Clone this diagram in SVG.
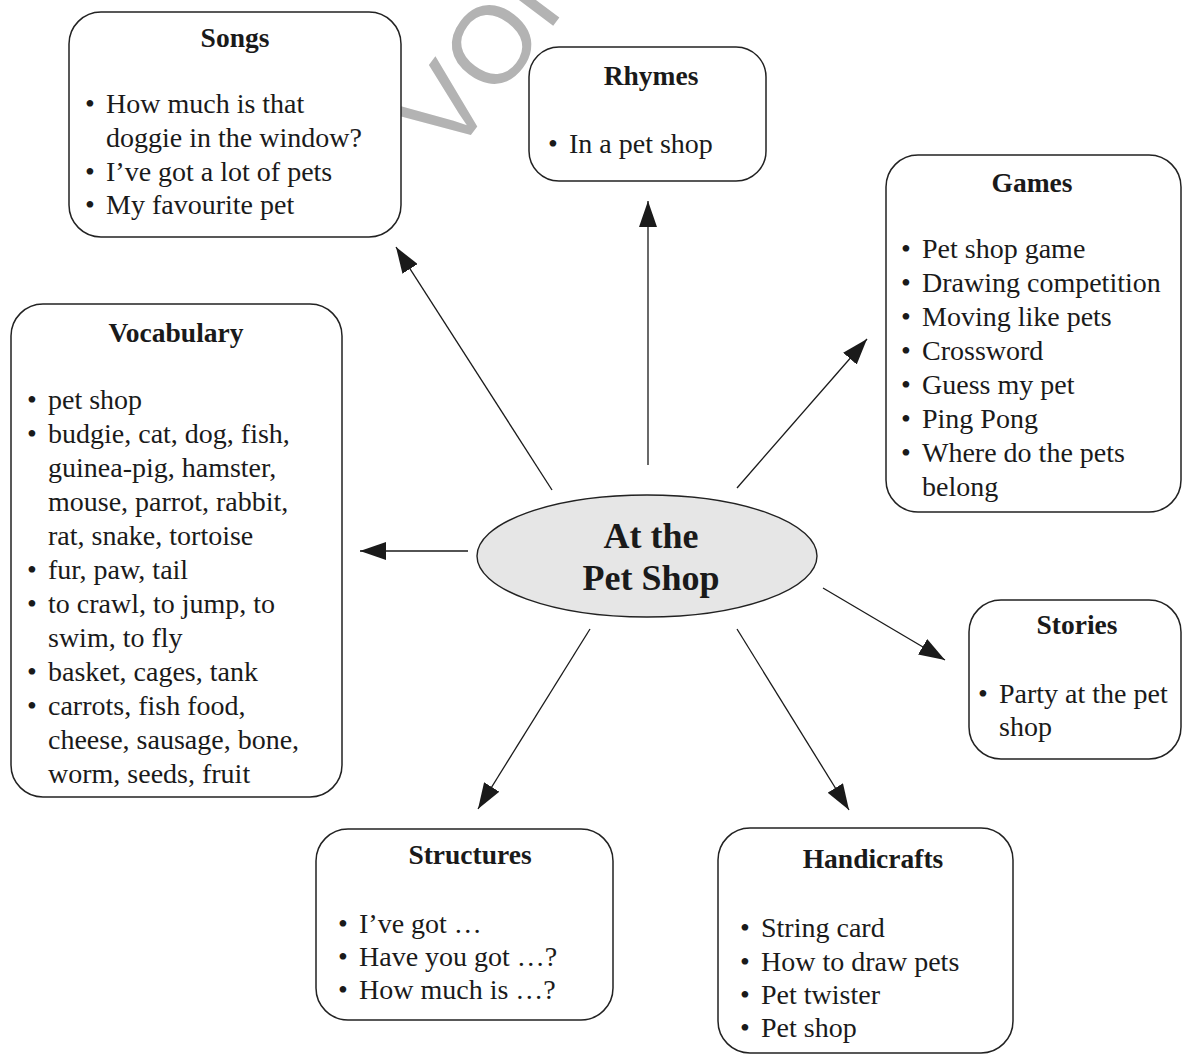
<svg xmlns="http://www.w3.org/2000/svg" width="1182" height="1054" viewBox="0 0 1182 1054">
<style>
.box{fill:#fff;stroke:#222;stroke-width:1.5}
.t{font-family:"Liberation Serif","Times New Roman",serif;font-size:28px;fill:#1a1a1a}
.h{font-family:"Liberation Serif","Times New Roman",serif;font-size:27.5px;font-weight:bold;fill:#1a1a1a;text-anchor:middle}
.c{font-family:"Liberation Serif","Times New Roman",serif;font-size:36px;font-weight:bold;fill:#1a1a1a;text-anchor:middle}
.wm{font-family:"Liberation Sans",Arial,sans-serif;font-size:110px;fill:#b3b3b3}
.ln{stroke:#1a1a1a;stroke-width:1.3;fill:none;marker-end:url(#ah)}
</style>
<defs>
<marker id="ah" markerUnits="userSpaceOnUse" viewBox="0 0 26 18" refX="26" refY="9" markerWidth="26" markerHeight="18" orient="auto">
<path d="M0,0 L26,9 L0,18 z" fill="#1a1a1a"/>
</marker>
</defs>
<rect width="1182" height="1054" fill="#fff"/>
<text class="wm" x="452" y="160" transform="rotate(-53 452 160)">VOR</text>

<g id="connectors">
<line class="ln" x1="552" y1="490" x2="396" y2="247"/>
<line class="ln" x1="648" y1="465" x2="648" y2="201"/>
<line class="ln" x1="737" y1="488" x2="867" y2="339"/>
<line class="ln" x1="468" y1="551" x2="360" y2="551"/>
<line class="ln" x1="823" y1="588" x2="945" y2="660"/>
<line class="ln" x1="590" y1="629" x2="478" y2="809"/>
<line class="ln" x1="737" y1="629" x2="849" y2="810"/>
</g>

<g id="center">
<ellipse cx="647" cy="556" rx="170" ry="61" fill="#e6e6e6" stroke="#222" stroke-width="1.4"/>
<text class="c" x="651" y="548">At the</text>
<text class="c" x="651" y="590">Pet Shop</text>
</g>

<g id="songs">
<rect class="box" x="69" y="12" width="332" height="225" rx="32"/>
<text class="h" x="235" y="47">Songs</text>
<text class="t"><tspan x="85" y="113">•</tspan><tspan x="106" y="113">How much is that</tspan><tspan x="106" y="147">doggie in the window?</tspan><tspan x="85" y="181">•</tspan><tspan x="106" y="181">I’ve got a lot of pets</tspan><tspan x="85" y="214">•</tspan><tspan x="106" y="214">My favourite pet</tspan></text>
</g>

<g id="rhymes">
<rect class="box" x="529" y="47" width="237" height="134" rx="30"/>
<text class="h" x="651" y="85">Rhymes</text>
<text class="t"><tspan x="548" y="153">•</tspan><tspan x="569" y="153">In a pet shop</tspan></text>
</g>

<g id="games">
<rect class="box" x="886" y="155" width="295" height="357" rx="32"/>
<text class="h" x="1032" y="192">Games</text>
<text class="t"><tspan x="901" y="258">•</tspan><tspan x="922" y="258">Pet shop game</tspan><tspan x="901" y="292">•</tspan><tspan x="922" y="292">Drawing competition</tspan><tspan x="901" y="326">•</tspan><tspan x="922" y="326">Moving like pets</tspan><tspan x="901" y="360">•</tspan><tspan x="922" y="360">Crossword</tspan><tspan x="901" y="394">•</tspan><tspan x="922" y="394">Guess my pet</tspan><tspan x="901" y="428">•</tspan><tspan x="922" y="428">Ping Pong</tspan><tspan x="901" y="462">•</tspan><tspan x="922" y="462">Where do the pets</tspan><tspan x="922" y="496">belong</tspan></text>
</g>

<g id="vocabulary">
<rect class="box" x="11" y="304" width="331" height="493" rx="32"/>
<text class="h" x="176" y="342">Vocabulary</text>
<text class="t"><tspan x="27" y="409">•</tspan><tspan x="48" y="409">pet shop</tspan><tspan x="27" y="443">•</tspan><tspan x="48" y="443">budgie, cat, dog, fish,</tspan><tspan x="48" y="477">guinea-pig, hamster,</tspan><tspan x="48" y="511">mouse, parrot, rabbit,</tspan><tspan x="48" y="545">rat, snake, tortoise</tspan><tspan x="27" y="579">•</tspan><tspan x="48" y="579">fur, paw, tail</tspan><tspan x="27" y="613">•</tspan><tspan x="48" y="613">to crawl, to jump, to</tspan><tspan x="48" y="647">swim, to fly</tspan><tspan x="27" y="681">•</tspan><tspan x="48" y="681">basket, cages, tank</tspan><tspan x="27" y="715">•</tspan><tspan x="48" y="715">carrots, fish food,</tspan><tspan x="48" y="749">cheese, sausage, bone,</tspan><tspan x="48" y="783">worm, seeds, fruit</tspan></text>
</g>

<g id="stories">
<rect class="box" x="969" y="600" width="212" height="159" rx="32"/>
<text class="h" x="1077" y="634">Stories</text>
<text class="t"><tspan x="978" y="703">•</tspan><tspan x="999" y="703">Party at the pet</tspan><tspan x="999" y="736">shop</tspan></text>
</g>

<g id="structures">
<rect class="box" x="316" y="829" width="297" height="191" rx="32"/>
<text class="h" x="470" y="864">Structures</text>
<text class="t"><tspan x="338" y="933">•</tspan><tspan x="359" y="933">I’ve got …</tspan><tspan x="338" y="966">•</tspan><tspan x="359" y="966">Have you got …?</tspan><tspan x="338" y="999">•</tspan><tspan x="359" y="999">How much is …?</tspan></text>
</g>

<g id="handicrafts">
<rect class="box" x="718" y="828" width="295" height="225" rx="32"/>
<text class="h" x="873" y="868">Handicrafts</text>
<text class="t"><tspan x="740" y="937">•</tspan><tspan x="761" y="937">String card</tspan><tspan x="740" y="971">•</tspan><tspan x="761" y="971">How to draw pets</tspan><tspan x="740" y="1004">•</tspan><tspan x="761" y="1004">Pet twister</tspan><tspan x="740" y="1037">•</tspan><tspan x="761" y="1037">Pet shop</tspan></text>
</g>
</svg>
